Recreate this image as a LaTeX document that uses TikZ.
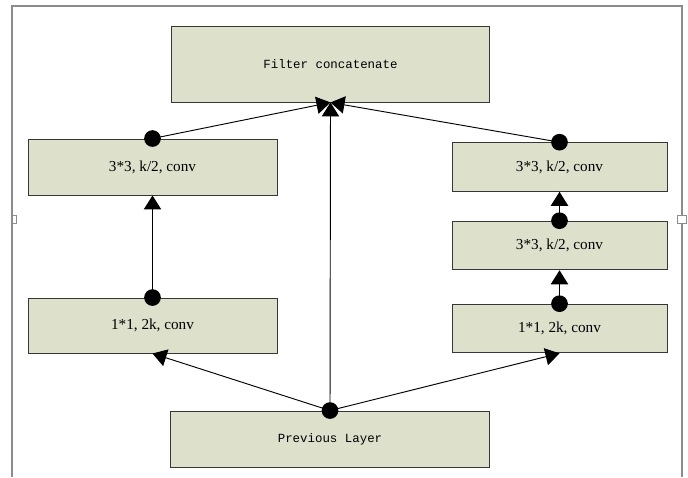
\documentclass[tikz,border=0pt]{standalone}
\usepackage{fontspec}
\setmainfont{Liberation Serif}
\newfontfamily\monofont{Liberation Mono}
\usepackage{xcolor}
\usepackage{tikz}
\usetikzlibrary{positioning,arrows.meta}
\definecolor{boxfill}{RGB}{221,224,203}
\definecolor{boxline}{RGB}{55,55,55}
\definecolor{pageline}{RGB}{140,140,140}

\begin{document}
\begin{tikzpicture}[
  every node/.style={font=\fontsize{13}{15}\selectfont},
  layer/.style={draw=boxline, line width=0.8pt, fill=boxfill, inner sep=0pt, align=center},
  wide/.style={layer, minimum width=9.55cm, font=\monofont\fontsize{10.6}{12}\selectfont},
  conv/.style={layer, minimum width=7.47cm, minimum height=1.68cm},
  convr/.style={layer, minimum width=6.45cm, minimum height=1.46cm},
  flow/.style={line width=0.8pt, -{Triangle[length=0.42cm, width=0.52cm]}},
  dot/.style={fill=black}]
  \useasboundingbox (0,0) rectangle (20.64,14.31);

  % page frame
  \draw[pageline, line width=1.2pt] (0.36,0) -- (0.36,14.13) -- (20.46,14.13) -- (20.46,0);
  \draw[pageline, fill=white, line width=0.6pt] (0.36,7.62) rectangle (0.50,7.86);
  \draw[pageline, fill=white, line width=0.6pt] (20.32,7.62) rectangle (20.58,7.86);

  \node[wide, minimum height=2.28cm] (concat) at (9.915,12.39) {Filter concatenate};
  \node[wide, minimum height=1.68cm] (prev) at (9.90,1.14) {Previous Layer};

  \node[conv] (lconvb) at (4.575,9.30) {3*3, k/2, conv};
  \node[conv, minimum height=1.65cm] (lconva) at (4.575,4.545) {1*1, 2k, conv};

  \node[convr] (rconvc) at (16.785,9.30) {3*3, k/2, conv};
  \node[convr] (rconvb) at (16.785,6.945) {3*3, k/2, conv};
  \node[convr] (rconva) at (16.785,4.455) {1*1, 2k, conv};

  % connectors
  \draw[flow] (prev.north) -- (lconva.south);
  \draw[flow] (prev.north) -- (rconva.south);
  \draw[flow] (prev.north) -- (concat.south);
  \draw[flow] (lconva.north) -- (lconvb.south);
  \draw[flow] (rconva.north) -- (rconvb.south);
  \draw[flow] (rconvb.north) -- (rconvc.south);
  \draw[flow] (lconvb.north) -- (concat.south);
  \draw[flow] (rconvc.north) -- (concat.south);

  \foreach \n in {prev,lconva,lconvb,rconva,rconvb,rconvc}
    \fill[dot] (\n.north) circle (0.25);
\end{tikzpicture}
\end{document}
